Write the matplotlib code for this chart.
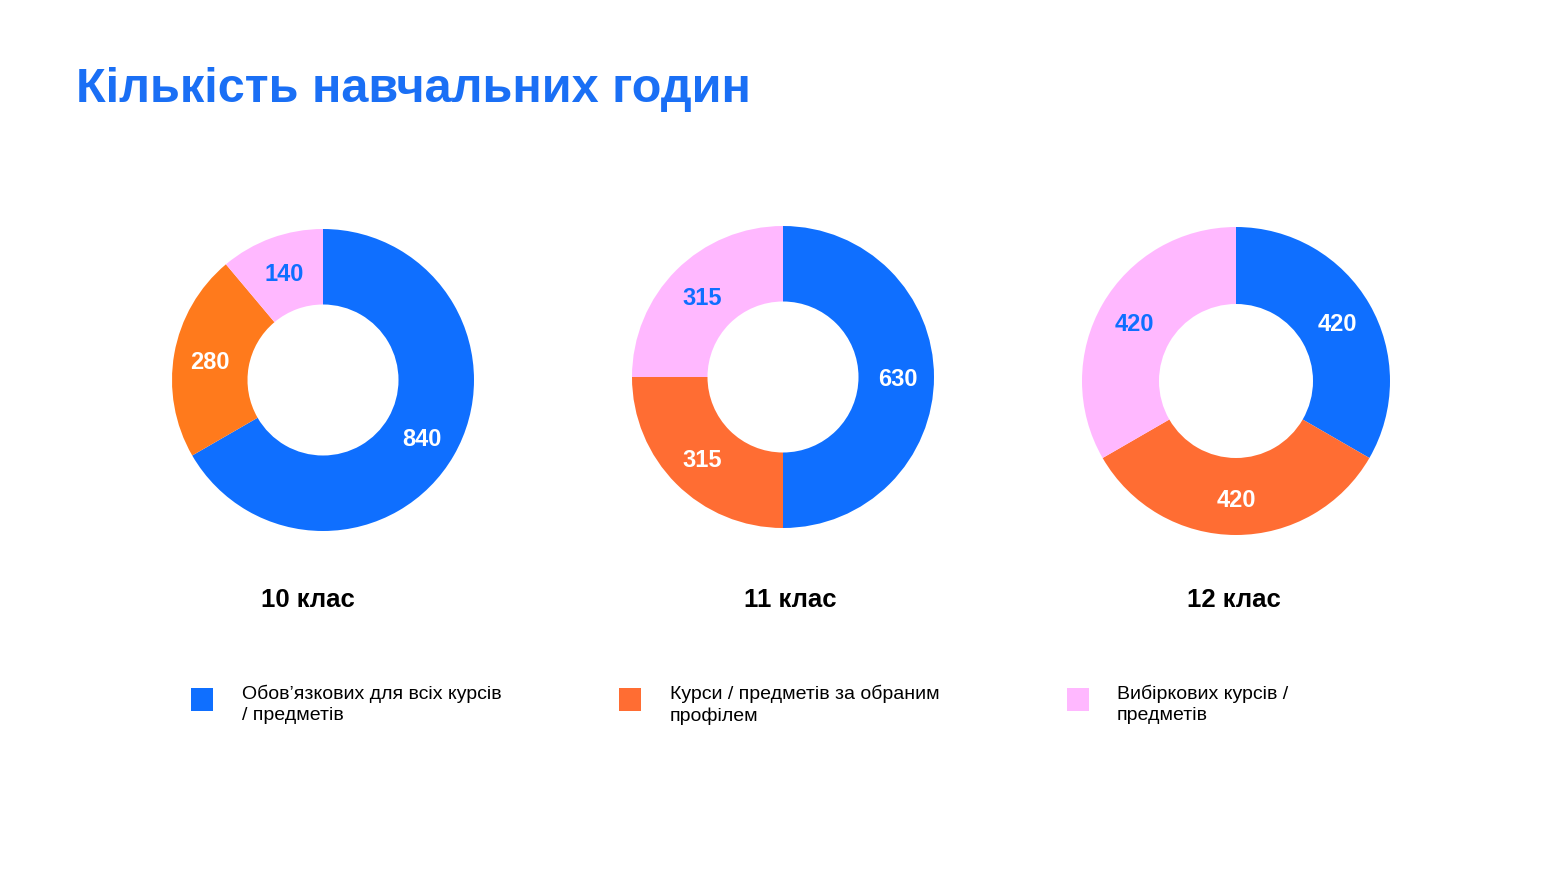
import matplotlib
matplotlib.use("Agg")
import matplotlib.pyplot as plt
from matplotlib.patches import Rectangle

plt.rcParams['font.family'] = ['Liberation Sans', 'DejaVu Sans']

title = "Кількість навчальних годин"
grades = ["10 клас", "11 клас", "12 клас"]
series_names = ["Обов’язкових для всіх курсів\n/ предметів",
                "Курси / предметів за обраним\nпрофілем",
                "Вибіркових курсів /\nпредметів"]
mandatory = [840, 630, 420]
profile = [280, 315, 420]
elective = [140, 315, 420]

BLUE = "#0F6FFF"
ORANGE1 = "#FF7A1C"
ORANGE = "#FF6D33"
PINK = "#FFB8FF"

W, H = 1556, 875
fig = plt.figure(figsize=(W / 100, H / 100), dpi=100)
ax = fig.add_axes([0, 0, 1, 1])

centers = [(323, 380), (783, 377), (1236, 381)]
radii = [151, 151, 154]
hole_frac = 0.50
grade_label_pos = [(308, 600), (790, 600), (1234, 600)]

for i in range(3):
    vals = [mandatory[i], profile[i], elective[i]]
    cols = [BLUE, ORANGE1 if i == 0 else ORANGE, PINK]
    cx, cy = centers[i]
    r = radii[i]
    wedges, texts = ax.pie(vals, colors=cols, startangle=90, counterclock=False,
                           center=(cx, H - cy), radius=r,
                           wedgeprops=dict(width=r * hole_frac, linewidth=0),
                           labels=[str(v) for v in vals],
                           labeldistance=1 - hole_frac / 2 + 0.01)
    for t, c in zip(texts, ["white", "white", BLUE]):
        t.set_color(c)
        t.set_fontsize(17)
        t.set_fontweight('bold')
        t.set_ha('center')
        t.set_va('center_baseline')
    gx, gy = grade_label_pos[i]
    ax.text(gx, H - gy, grades[i], ha='center', va='center', fontsize=18.5,
            fontweight='bold', color='black')

ax.set_xlim(0, W)
ax.set_ylim(0, H)
ax.set_aspect('auto')
ax.axis('off')

ax.text(76, H - 90, title, ha='left', va='center', fontsize=35,
        fontweight='bold', color="#1A6FF5")

leg_sq_x = [191, 619, 1067]
leg_txt_x = [242, 670, 1117]
leg_cols = [BLUE, ORANGE, PINK]
for sx, tx, c, name in zip(leg_sq_x, leg_txt_x, leg_cols, series_names):
    ax.add_patch(Rectangle((sx, H - 711), 22, 23, facecolor=c, edgecolor='none'))
    ax.text(tx, H - 685, name, ha='left', va='top', fontsize=14,
            color='black', linespacing=1.3)

fig.savefig("out.png", dpi=100, facecolor='white')
